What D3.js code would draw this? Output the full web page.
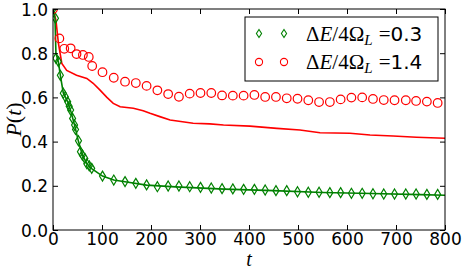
<!DOCTYPE html>
<html>
<head>
<meta charset="utf-8">
<script src="https://cdn.jsdelivr.net/npm/d3@7"></script>
<style>
  body { margin: 0; background: #fff; }
  svg { display: block; }
  .tick text { font-family: "DejaVu Sans", sans-serif; font-size: 17px; fill: #000; }
</style>
</head>
<body>
<div id="chart"></div>
<script>
'use strict'
// regular sampling after the transient, shared by both data sets
const tGrid = [101,124,147,169,191,213,235,257,279,301,323,345,367,389,411,433,455,477,499,521,543,565,587,609,631,653,675,697,720,741,763,785]

// ΔE/4Ω_L = 0.3 (green diamonds)
const greenT = [0,5,6,11,15,21,25,30,33,36,40,44,46,52,56,60,65,69,74,79].concat(tGrid)
const greenP = [1.0,0.958,0.777,0.762,0.70,0.619,0.603,0.58,0.56,0.543,0.505,0.475,0.455,0.404,0.354,0.339,0.324,0.30,0.29,0.279,
  0.244,0.226,0.219,0.211,0.204,0.196,0.199,0.199,0.196,0.193,0.19,0.187,0.186,0.184,0.184,0.181,0.178,0.178,0.173,
  0.171,0.171,0.169,0.169,0.166,0.166,0.164,0.163,0.163,0.163,0.163,0.161,0.161,0.16]

// ΔE/4Ω_L = 1.4 (red circles)
const redT = [0,13,23,36,48,61,73,80].concat(tGrid)
const redP = [1.0,0.867,0.82,0.822,0.796,0.792,0.783,0.742,
  0.714,0.689,0.671,0.665,0.652,0.632,0.615,0.603,0.617,0.62,0.62,0.609,0.608,0.608,0.611,0.602,0.602,0.596,0.594,
  0.587,0.579,0.579,0.591,0.599,0.6,0.593,0.588,0.587,0.587,0.584,0.581,0.575]

// solid curves
const redLineT = [0,6,11,18,28,48,69,82,96,110,123,137,164,184,198,218,239,286,320,348,402,457,504,545,606,647,694,742,800]
const redLineP = [1.0,0.95,0.846,0.754,0.722,0.70,0.686,0.664,0.633,0.60,0.573,0.558,0.551,0.54,0.528,0.513,0.498,0.483,0.48,0.475,0.47,0.46,0.4525,0.44,0.4375,0.43,0.425,0.42,0.415]
const greenLineT = [0,4,6,11,15,21,30,36,44,52,60,69,79,101,124,147,191,250,350,450,550,650,750,800]
const greenLineP = [1.0,0.96,0.80,0.76,0.70,0.62,0.58,0.54,0.475,0.40,0.34,0.30,0.278,0.244,0.226,0.218,0.203,0.195,0.185,0.178,0.17,0.165,0.16,0.157]

const xTicks = [0,100,200,300,400,500,600,700,800]
const yTicks = [0.0,0.2,0.4,0.6,0.8,1.0]

const W = 463, H = 270
const margin = {left:53, right:18, top:9, bottom:40}
const iw = W - margin.left - margin.right
const ih = H - margin.top - margin.bottom

const svg = d3.select("#chart").append("svg")
  .attr("width", W).attr("height", H)

const x = d3.scaleLinear().domain([0,800]).range([0, iw])
const y = d3.scaleLinear().domain([0,1]).range([ih, 0])

const g = svg.append("g").attr("transform", `translate(${margin.left},${margin.top})`)

g.append("clipPath").attr("id","clip")
  .append("rect").attr("width", iw).attr("height", ih)

const plot = g.append("g").attr("clip-path","url(#clip)")

const zip = (a, b) => a.map((d, i) => [d, b[i]])
const line = d3.line().x(d => x(d[0])).y(d => y(d[1]))

plot.append("path").datum(zip(redLineT, redLineP))
  .attr("d", line).attr("fill","none").attr("stroke","#ff0000").attr("stroke-width",1.6)
plot.append("path").datum(zip(greenLineT, greenLineP))
  .attr("d", line).attr("fill","none").attr("stroke","#008000").attr("stroke-width",1.6)

const diamond = "M0,-5L3,0L0,5L-3,0Z"
const smallDiamond = "M0,-4L2.6,0L0,4L-2.6,0Z"

plot.selectAll(".gd").data(zip(greenT, greenP)).enter()
  .append("path").attr("class","gd")
  .attr("d", diamond)
  .attr("transform", d => `translate(${x(d[0])},${y(d[1])})`)
  .attr("fill","none").attr("stroke","#008000").attr("stroke-width",1.2)

plot.selectAll(".rc").data(zip(redT, redP)).enter()
  .append("circle").attr("class","rc")
  .attr("cx", d => x(d[0])).attr("cy", d => y(d[1])).attr("r", 4.3)
  .attr("fill","none").attr("stroke","#ff0000").attr("stroke-width",1.2)

// axes, ticks pointing inward on all sides
const gx = g.append("g").attr("transform", `translate(0,${ih})`)
  .call(d3.axisBottom(x).tickValues(xTicks).tickSize(-5).tickPadding(3).tickFormat(d3.format("d")))
const gy = g.append("g")
  .call(d3.axisLeft(y).tickValues(yTicks).tickSize(-5).tickPadding(5).tickFormat(d3.format(".1f")))
g.append("g").call(d3.axisTop(x).tickValues(xTicks).tickSize(-5).tickFormat(""))
g.append("g").attr("transform", `translate(${iw},0)`)
  .call(d3.axisRight(y).tickValues(yTicks).tickSize(-5).tickFormat(""))
g.selectAll(".domain").remove()
g.selectAll(".tick line").attr("stroke","#000")
gx.selectAll("text").attr("dy","0.72em")
gy.selectAll("text").attr("dy","0.36em")

g.append("rect").attr("width", iw).attr("height", ih)
  .attr("fill","none").attr("stroke","#000").attr("stroke-width",1)

// axis labels
svg.append("text").attr("x", margin.left + iw/2).attr("y", 266)
  .attr("text-anchor","middle")
  .style("font-family","'Liberation Serif', serif").style("font-style","italic").style("font-size","20px")
  .text("t")
svg.append("text")
  .attr("transform", `translate(21,${margin.top + ih/2}) rotate(-90)`)
  .attr("text-anchor","middle")
  .style("font-family","'Liberation Serif', serif").style("font-size","22px")
  .call(t => {
    t.append("tspan").style("font-style","italic").text("P")
    t.append("tspan").text("(")
    t.append("tspan").style("font-style","italic").text("t")
    t.append("tspan").text(")")
  })

// legend
const leg = svg.append("g").attr("transform","translate(245,17)")
leg.append("rect").attr("width",193).attr("height",64)
  .attr("fill","#fff").attr("stroke","#000").attr("stroke-width",1)

const entries = [
  {label:"0.3", kind:"d", color:"#008000"},
  {label:"1.4", kind:"o", color:"#ff0000"}
]
entries.forEach((e, i) => {
  const cy = 16.5 + i*28.5
  ;[14, 39].forEach(cx => {
    if (e.kind === "d") {
      leg.append("path").attr("d", smallDiamond).attr("transform",`translate(${cx},${cy})`)
        .attr("fill","none").attr("stroke",e.color).attr("stroke-width",1.1)
    } else {
      leg.append("circle").attr("cx",cx).attr("cy",cy).attr("r",3.6)
        .attr("fill","none").attr("stroke",e.color).attr("stroke-width",1.1)
    }
  })
  const t = leg.append("text").attr("x",61).attr("y",cy+7)
    .style("font-family","'Liberation Serif', serif").style("font-size","21px")
  t.append("tspan").text("Δ")
  t.append("tspan").style("font-style","italic").text("E")
  t.append("tspan").text("/4Ω")
  t.append("tspan").style("font-style","italic").style("font-size","15px").attr("dy",4).text("L")
  t.append("tspan").attr("dy",-4).attr("dx",6).text("=")
  t.append("tspan").style("font-family","'DejaVu Sans', sans-serif").style("font-size","20px").text(e.label)
})
</script>
</body>
</html>
